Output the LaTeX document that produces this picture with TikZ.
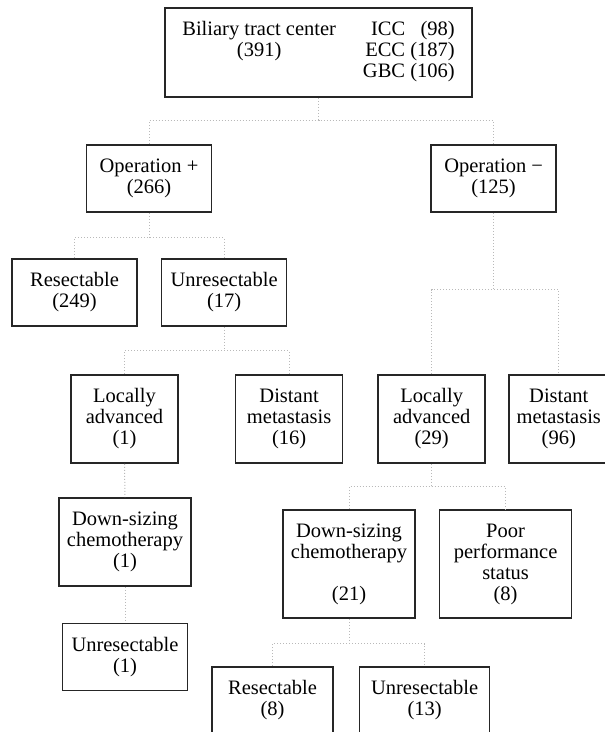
\documentclass[tikz,border=0pt]{standalone}
\usepackage{fontspec}
\setmainfont{Liberation Serif}
\usepackage{tikz}
\usetikzlibrary{positioning}
\tikzstyle{box} = [rectangle, draw=black!85, line width=0.8pt, text centered, align=center, inner sep=0pt, minimum width=62.5pt, minimum height=33.5pt]
\tikzstyle{tallbox} = [box, minimum width=53.5pt, minimum height=44pt]
\tikzstyle{widebox} = [box, minimum width=66pt, minimum height=44pt]
\tikzstyle{link} = [densely dotted, gray!55, line width=0.5pt]

\begin{document}
\begin{tikzpicture}[x=0.5pt, y=0.5pt, every node/.style={font=\fontsize{10.25}{10.5}\selectfont}]
    \useasboundingbox (0,0) rectangle (604,-732);

    \node (top) [box, minimum width=153.5pt, minimum height=44.5pt] at (318.5,-52.5)
        {\begin{tabular}{@{}c@{\hspace{13.5pt}}r@{}}
            Biliary tract center & ICC\enspace{} (98)\\
            (391) & ECC (187)\\
            & GBC (106)
        \end{tabular}};

    \node (opplus) [box] at (149,-178.5) {Operation +\\(266)};
    \node (opminus) [box, right=109pt of opplus] {Operation −\\(125)};

    \node (res1) [box] at (74.5,-292.5) {Resectable\\(249)};
    \node (unres1) [box, right=11.5pt of res1] {Unresectable\\(17)};

    \node (loc1) [tallbox] at (124.5,-419) {Locally\\advanced\\(1)};
    \node (dist1) [tallbox, right=28pt of loc1] {Distant\\metastasis\\(16)};
    \node (loc2) [tallbox, right=17pt of dist1] {Locally\\advanced\\(29)};
    \node (dist2) [tallbox, minimum width=50pt, right=11pt of loc2] {Distant\\metastasis\\(96)};

    \node (down1) [widebox] at (125,-542) {Down-sizing\\chemotherapy\\(1)};
    \node (unres3) [box, below=18pt of down1] {Unresectable\\(1)};

    \node (down2) [widebox, minimum height=54pt] at (349,-564) {Down-sizing\\chemotherapy\\[10.5pt](21)};
    \node (poor) [widebox, minimum height=54pt, right=11.5pt of down2] {Poor\\performance\\status\\(8)};

    \node (res3) [box, minimum width=60.5pt] at (272.5,-700.5) {Resectable\\(8)};
    \node (unres4) [box, minimum width=65pt, right=12.5pt of res3] {Unresectable\\(13)};

    \draw [link] (top.south) -- ++(0,-23) coordinate (b0);
    \draw [link] (opplus.north) |- (b0) -| (opminus.north);
    \draw [link] (opplus.south) -- ++(0,-25) coordinate (b1);
    \draw [link] (res1.north) |- (b1) -| (unres1.north);
    \draw [link] (opminus.south) -- ++(0,-77) coordinate (b2);
    \draw [link] (loc2.north) |- (b2) -| (dist2.north);
    \draw [link] (unres1.south) -- ++(0,-24) coordinate (b3);
    \draw [link] (loc1.north) |- (b3) -| (dist1.north);
    \draw [link] (loc2.south) -- ++(0,-23) coordinate (b4);
    \draw [link] (down2.north) |- (b4) -| (poor.north);
    \draw [link] (down2.south) -- ++(0,-25) coordinate (b5);
    \draw [link] (res3.north) |- (b5) -| (unres4.north);
    \draw [link] (loc1.south) -- (down1.north);
    \draw [link] (down1.south) -- (unres3.north);
\end{tikzpicture}
\end{document}
